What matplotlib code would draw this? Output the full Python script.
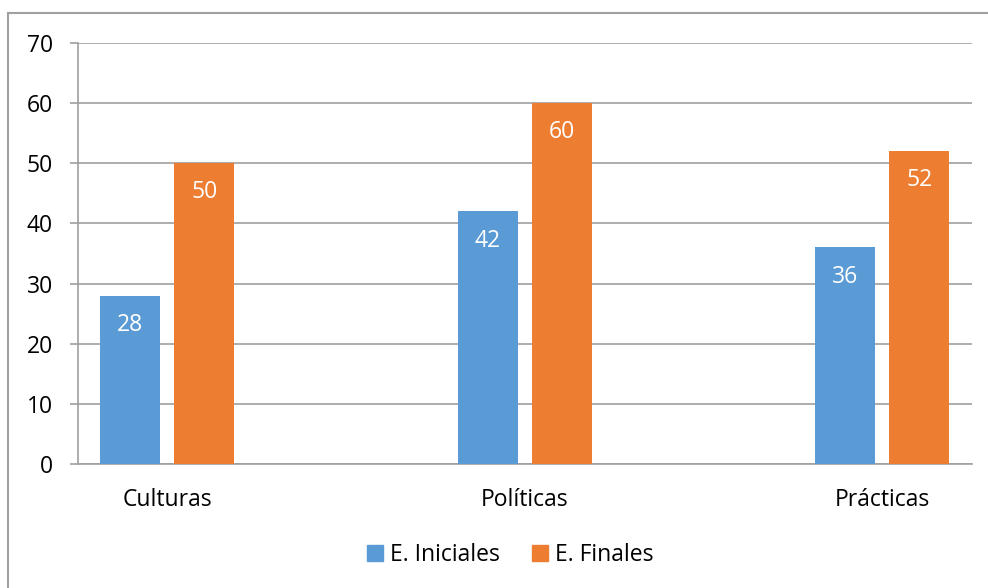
import matplotlib
matplotlib.use('Agg')
import matplotlib.pyplot as plt
from matplotlib.patches import Patch
from matplotlib.lines import Line2D
import numpy as np

# datos del grafico
categorias = ['Culturas', 'Políticas', 'Prácticas']
iniciales = [28, 42, 36]
finales = [50, 60, 52]
series = ['E. Iniciales', 'E. Finales']
yticks = [0, 10, 20, 30, 40, 50, 60, 70]

azul = '#5B9BD5'
naranja = '#ED7D31'
gris = '#A0A0A0'
fs = 16.5

plt.rcParams['font.family'] = ['Open Sans', 'DejaVu Sans']

W, H = 988, 588
fig = plt.figure(figsize=(W / 100, H / 100), dpi=100)
ax = fig.add_axes([78 / W, 1 - 464 / H, (971.7 - 78) / W, (464 - 43) / H])

x = np.arange(len(categorias))
ancho = 0.168
desp = 0.1035
b1 = ax.bar(x - desp, iniciales, ancho, color=azul, zorder=3)
b2 = ax.bar(x + desp, finales, ancho, color=naranja, zorder=3)

# etiquetas de datos dentro de las barras
for barras in (b1, b2):
    for r in barras:
        ax.annotate(str(int(r.get_height())),
                    (r.get_x() + r.get_width() / 2, r.get_height()),
                    xytext=(0, -21), textcoords='offset points',
                    ha='center', va='center', color='white', fontsize=fs, zorder=4)

ax.set_xlim(-0.25, 2.25)
ax.set_ylim(0, 70)
ax.set_yticks(yticks)
ax.set_xticks(x)
ax.set_xticklabels(categorias)
ax.yaxis.grid(True, color=gris, linewidth=1.2, zorder=0)
ax.set_axisbelow(True)

for s in ['top', 'right']:
    ax.spines[s].set_visible(False)
for s in ['left', 'bottom']:
    ax.spines[s].set_color(gris)
    ax.spines[s].set_linewidth(1.2)

ax.tick_params(axis='y', length=6, width=1.2, color=gris, pad=12, labelsize=fs)
ax.tick_params(axis='x', length=0, pad=17, labelsize=fs)

# leyenda
handles = [Patch(color=azul, label=series[0]), Patch(color=naranja, label=series[1])]
fig.legend(handles=handles, loc='center', bbox_to_anchor=(510 / W, 1 - 555 / H),
           ncol=2, frameon=False, fontsize=fs, handlelength=0.7, handleheight=0.7,
           handletextpad=0.3, columnspacing=1.4)

# borde exterior del grafico
fig.add_artist(Line2D([8 / W, 8 / W], [0, 1 - 13 / H], color=gris, linewidth=1.5))
fig.add_artist(Line2D([8 / W, 1], [1 - 13 / H, 1 - 13 / H], color=gris, linewidth=1.5))

fig.savefig('out.png', dpi=100)
